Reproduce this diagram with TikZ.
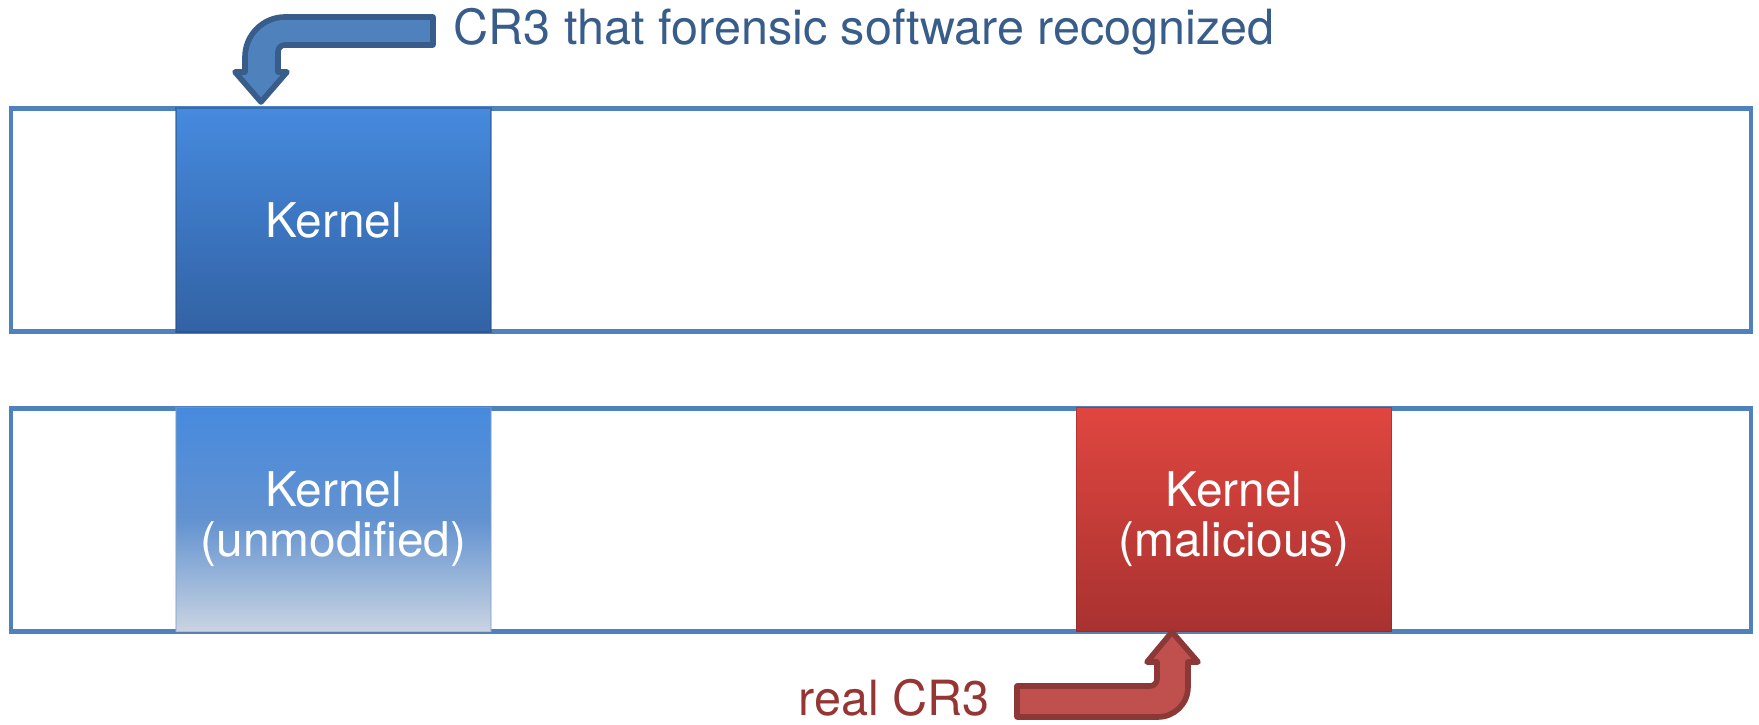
\documentclass[tikz,border=0pt]{standalone}
\usepackage{fontspec}
\setmainfont{TeX Gyre Heros}
\usetikzlibrary{shadows}
\definecolor{barblue}{RGB}{79,129,189}
\definecolor{darkblue}{RGB}{56,93,138}
\definecolor{kertop}{RGB}{70,138,222}
\definecolor{kerbot}{RGB}{50,98,164}
\definecolor{fademid}{RGB}{98,146,208}
\definecolor{fadebot}{RGB}{202,212,226}
\definecolor{badtop}{RGB}{224,70,64}
\definecolor{badbot}{RGB}{168,50,48}
\definecolor{arrred}{RGB}{192,80,77}
\definecolor{darkred}{RGB}{140,56,54}
\definecolor{textred}{RGB}{150,54,52}
\tikzset{
    mem/.style = {
        draw = barblue,
        line width = 1.4pt,
        minimum width = 17.39cm,
        minimum height = 2.22cm,
        inner sep = 0pt,
        },
    kernel/.style = {
        minimum width = 3.15cm,
        minimum height = 2.24cm,
        inner sep = 0pt,
        align = center,
        text = white,
        font = \fontsize{13.6}{14.3}\selectfont,
        drop shadow = {opacity=0.25, shadow xshift=0pt, shadow yshift=-0.6pt},
        },
    kernel good/.style = {
        kernel,
        top color = kertop,
        bottom color = kerbot,
        draw = kerbot!80!black,
        draw opacity = 0.5,
        },
    kernel old/.style = {
        kernel,
        top color = kertop,
        bottom color = fadebot,
        middle color = fademid,
        draw = kerbot!60,
        draw opacity = 0.4,
        },
    kernel bad/.style = {
        kernel,
        top color = badtop,
        bottom color = badbot,
        draw = badbot!80!black,
        draw opacity = 0.5,
        },
    note/.style = {
        anchor = base west,
        inner sep = 0pt,
        font = \fontsize{13.8}{16}\selectfont,
        },
    bent good/.style = {
        fill = barblue,
        draw = darkblue,
        line width = 1.6pt,
        line join = round,
        },
    bent bad/.style = {
        fill = arrred,
        draw = darkred,
        line width = 1.6pt,
        line join = round,
        },
}
\begin{document}
\begin{tikzpicture}[x=0.01cm, y=-0.01cm]
    \useasboundingbox (0,0) rectangle (1759,725);

    \node[mem] (memA) at (881,220) {};
    \node[mem] (memB) at (881,520) {};

    \node[kernel good] (kernA) at (333.5,220) {Kernel};
    \node[kernel old] (kernB) at (333.5,519.5) {Kernel\\(unmodified)};
    \node[kernel bad] (kernC) at (1234,519.5) {Kernel\\(malicious)};

    \node[note, text=darkblue] (lblA) at (453,45) {CR3 that forensic software recognized};
    \node[note, text=textred] (lblB) at (798,716) {real CR3};

    % bent arrows
    \draw[bent good] (433,17) -- (285,17) .. controls (263,17) and (245,35) .. (245,57)
        -- (245,72) -- (235,72) -- (261,102) -- (287,72) -- (278,72) -- (278,52)
        .. controls (278,48) and (281,45) .. (285,45) -- (433,45) -- cycle;
    \draw[bent bad] (1017,686) -- (1150,686) .. controls (1154,686) and (1157,683) .. (1157,679)
        -- (1157,662) -- (1147,662) -- (1172,632) -- (1198,662) -- (1188,662) -- (1188,687)
        .. controls (1188,704) and (1174,717) .. (1158,717) -- (1017,717) -- cycle;
\end{tikzpicture}
\end{document}
